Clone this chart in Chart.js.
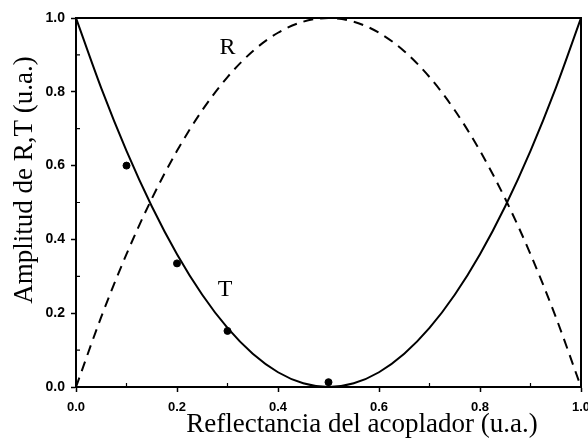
<!DOCTYPE html>
<html>
<head>
<meta charset="utf-8">
<script src="https://cdn.jsdelivr.net/npm/chart.js@4"></script>
<style>
  html, body { margin: 0; padding: 0; background: #fff; }
  #wrap { width: 588px; height: 442px; }
</style>
</head>
<body>
<div id="wrap"><canvas id="grafico"></canvas></div>
<script>
// Reflectancia del acoplador (eje x)
const reflectancia = [0, 0.05, 0.1, 0.15, 0.2, 0.25, 0.3, 0.35, 0.4, 0.45, 0.5,
                      0.55, 0.6, 0.65, 0.7, 0.75, 0.8, 0.85, 0.9, 0.95, 1];
// Curva T (continua)
const ampT = [1, 0.81, 0.64, 0.49, 0.36, 0.25, 0.16, 0.09, 0.04, 0.01, 0,
              0.01, 0.04, 0.09, 0.16, 0.25, 0.36, 0.49, 0.64, 0.81, 1];
// Curva R (discontinua)
const ampR = [0, 0.19, 0.36, 0.51, 0.64, 0.75, 0.84, 0.91, 0.96, 0.99, 1,
              0.99, 0.96, 0.91, 0.84, 0.75, 0.64, 0.51, 0.36, 0.19, 0];
// Medidas
const medX = [0.1, 0.2, 0.3, 0.5];
const medT = [0.60, 0.335, 0.152, 0.013];

// Etiquetas de curva
const etiquetas = [
  { texto: 'R', x: 0.30, y: 0.92 },
  { texto: 'T', x: 0.295, y: 0.265 }
];

const tituloX = 'Reflectancia del acoplador (u.a.)';
const tituloY = 'Amplitud de R,T (u.a.)';
const fuenteTitulo = '27px "Liberation Serif", "Times New Roman", serif';

const puntos = (xs, ys) => xs.map((x, i) => ({ x: x, y: ys[i] }));
const esMayor = v => Math.round(v * 10) % 2 === 0;

const textoCurvas = {
  id: 'textoCurvas',
  afterDatasetsDraw(chart) {
    const ctx = chart.ctx;
    const sx = chart.scales.x, sy = chart.scales.y;
    ctx.save();
    ctx.fillStyle = '#000';
    ctx.font = '24px "Liberation Serif", serif';
    ctx.textAlign = 'center';
    ctx.textBaseline = 'middle';
    etiquetas.forEach(e => {
      ctx.fillText(e.texto, sx.getPixelForValue(e.x), sy.getPixelForValue(e.y));
    });
    ctx.restore();
  }
};

// marco, marcas menores hacia dentro y títulos de ejes
const marco = {
  id: 'marco',
  afterDraw(chart) {
    const a = chart.chartArea;
    const ctx = chart.ctx;
    const sx = chart.scales.x, sy = chart.scales.y;
    ctx.save();
    ctx.strokeStyle = '#000';
    ctx.lineWidth = 2;
    ctx.strokeRect(a.left, a.top, a.right - a.left, a.bottom - a.top);

    ctx.lineWidth = 1.2;
    ctx.beginPath();
    [0.1, 0.3, 0.5, 0.7, 0.9].forEach(v => {
      const px = sx.getPixelForValue(v);
      ctx.moveTo(px, a.bottom);
      ctx.lineTo(px, a.bottom - 4);
      const py = sy.getPixelForValue(v);
      ctx.moveTo(a.left, py);
      ctx.lineTo(a.left + 4, py);
    });
    ctx.stroke();

    ctx.fillStyle = '#000';
    ctx.font = fuenteTitulo;
    ctx.textAlign = 'center';
    ctx.textBaseline = 'alphabetic';
    ctx.fillText(tituloX, 362, 432);

    ctx.translate(32, 180);
    ctx.rotate(-Math.PI / 2);
    ctx.fillText(tituloY, 0, 0);
    ctx.restore();
  }
};

const etiquetaPar = v => (esMayor(v) ? v.toFixed(1) : '');

new Chart(document.getElementById('grafico'), {
  type: 'scatter',
  data: {
    datasets: [
      {
        label: 'T',
        data: puntos(reflectancia, ampT),
        showLine: true,
        borderColor: '#000',
        borderWidth: 2,
        pointRadius: 0,
        cubicInterpolationMode: 'monotone'
      },
      {
        label: 'R',
        data: puntos(reflectancia, ampR),
        showLine: true,
        borderColor: '#000',
        borderWidth: 2,
        borderDash: [10, 7],
        pointRadius: 0,
        cubicInterpolationMode: 'monotone'
      },
      {
        label: 'medidas',
        data: puntos(medX, medT),
        showLine: false,
        backgroundColor: '#000',
        borderColor: '#000',
        pointRadius: 3.5
      }
    ]
  },
  options: {
    responsive: true,
    maintainAspectRatio: false,
    animation: false,
    layout: { padding: { top: 18, right: 7, left: 0, bottom: 0 } },
    plugins: { legend: { display: false }, tooltip: { enabled: false } },
    scales: {
      x: {
        type: 'linear',
        min: 0, max: 1,
        afterFit: s => { s.height = 55; s.paddingLeft = 0; s.paddingRight = 0; },
        border: { display: true, color: '#000', width: 2 },
        grid: {
          drawOnChartArea: false,
          tickLength: 5,
          tickColor: c => (esMayor(c.tick.value) ? '#000' : 'rgba(0,0,0,0)'),
          tickWidth: 1.5
        },
        ticks: {
          stepSize: 0.1,
          autoSkip: false,
          maxRotation: 0,
          padding: 8,
          color: '#000',
          font: { family: '"Liberation Sans", Arial, sans-serif', size: 13, weight: 'bold' },
          callback: etiquetaPar
        }
      },
      y: {
        min: 0, max: 1,
        afterFit: s => { s.width = 76; s.paddingTop = 0; s.paddingBottom = 0; },
        border: { display: true, color: '#000', width: 2 },
        grid: {
          drawOnChartArea: false,
          tickLength: 5,
          tickColor: c => (esMayor(c.tick.value) ? '#000' : 'rgba(0,0,0,0)'),
          tickWidth: 1.5
        },
        ticks: {
          stepSize: 0.1,
          autoSkip: false,
          padding: 6,
          color: '#000',
          font: { family: '"Liberation Sans", Arial, sans-serif', size: 14, weight: 'bold' },
          callback: etiquetaPar
        }
      }
    }
  },
  plugins: [textoCurvas, marco]
});
</script>
</body>
</html>
